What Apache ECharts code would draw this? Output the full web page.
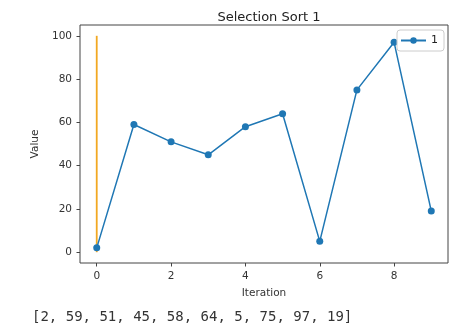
<!DOCTYPE html>
<html>
<head>
<meta charset="utf-8">
<script src="https://cdn.jsdelivr.net/npm/echarts@6/dist/echarts.min.js"></script>
<style>
  html, body { margin: 0; padding: 0; background: #fff; }
  #chart { width: 475px; height: 329px; }
</style>
</head>
<body>
<div id="chart"></div>
<script>
// Array state after the first selection-sort pass
const iterations = [0, 1, 2, 3, 4, 5, 6, 7, 8, 9];
const values = [2, 59, 51, 45, 58, 64, 5, 75, 97, 19];
// Marker for the current position of the sort
const markerX = [0, 0];
const markerY = [0, 100];
const xTicks = [0, 2, 4, 6, 8];
const yTicks = [0, 20, 40, 60, 80, 100];
const seriesName = '1';
const chartTitle = 'Selection Sort 1';

const font = 'DejaVu Sans, sans-serif';
const chart = echarts.init(document.getElementById('chart'), null, { renderer: 'canvas' });

chart.setOption({
  animation: false,
  backgroundColor: '#fff',
  title: [
    {
      text: chartTitle,
      left: 264, top: 6, textAlign: 'center',
      textStyle: { fontFamily: font, fontSize: 13, fontWeight: 'normal', color: '#222' }
    },
    {
      text: '[' + values.join(', ') + ']',
      left: 27, top: 305,
      textStyle: { fontFamily: 'DejaVu Sans Mono, monospace', fontSize: 14, fontWeight: 'normal', color: '#333' }
    }
  ],
  grid: {
    left: 80, top: 25, right: 27, bottom: 66,
    show: true, borderColor: '#444', borderWidth: 1
  },
  legend: {
    data: [seriesName],
    right: 31, top: 30,
    orient: 'vertical',
    padding: [5, 6, 5, 3],
    itemWidth: 25, itemHeight: 8, itemGap: 5,
    backgroundColor: 'rgba(255,255,255,0.8)',
    borderColor: '#ccc', borderWidth: 1, borderRadius: 3,
    textStyle: { fontFamily: font, fontSize: 11, color: '#222' }
  },
  xAxis: {
    type: 'value',
    min: -0.45, max: 9.45,
    name: 'Iteration', nameLocation: 'middle', nameGap: 25,
    nameTextStyle: { fontFamily: font, fontSize: 10.5, color: '#333' },
    axisLine: { show: false, onZero: false },
    splitLine: { show: false },
    axisTick: { show: true, length: 3.5, lineStyle: { color: '#444' }, customValues: xTicks },
    axisLabel: { fontFamily: font, fontSize: 10.5, color: '#333', margin: 8, customValues: xTicks }
  },
  yAxis: {
    type: 'value',
    min: -5, max: 105,
    name: 'Value', nameLocation: 'middle', nameGap: 33,
    nameTextStyle: { fontFamily: font, fontSize: 10.5, color: '#333' },
    axisLine: { show: false, onZero: false },
    splitLine: { show: false },
    axisTick: { show: true, length: 3.5, lineStyle: { color: '#444' }, customValues: yTicks },
    axisLabel: { fontFamily: font, fontSize: 10.5, color: '#333', margin: 8, customValues: yTicks }
  },
  series: [
    {
      name: seriesName,
      type: 'line',
      data: iterations.map((x, i) => [x, values[i]]),
      symbol: 'circle', symbolSize: 7,
      lineStyle: { color: '#1f77b4', width: 1.5 },
      itemStyle: { color: '#1f77b4' },
      z: 3
    },
    {
      name: 'marker',
      type: 'line',
      data: markerX.map((x, i) => [x, markerY[i]]),
      symbol: 'none',
      lineStyle: { color: '#f2a822', width: 1.8 },
      itemStyle: { color: '#f2a822' },
      z: 2
    }
  ]
});
</script>
</body>
</html>
